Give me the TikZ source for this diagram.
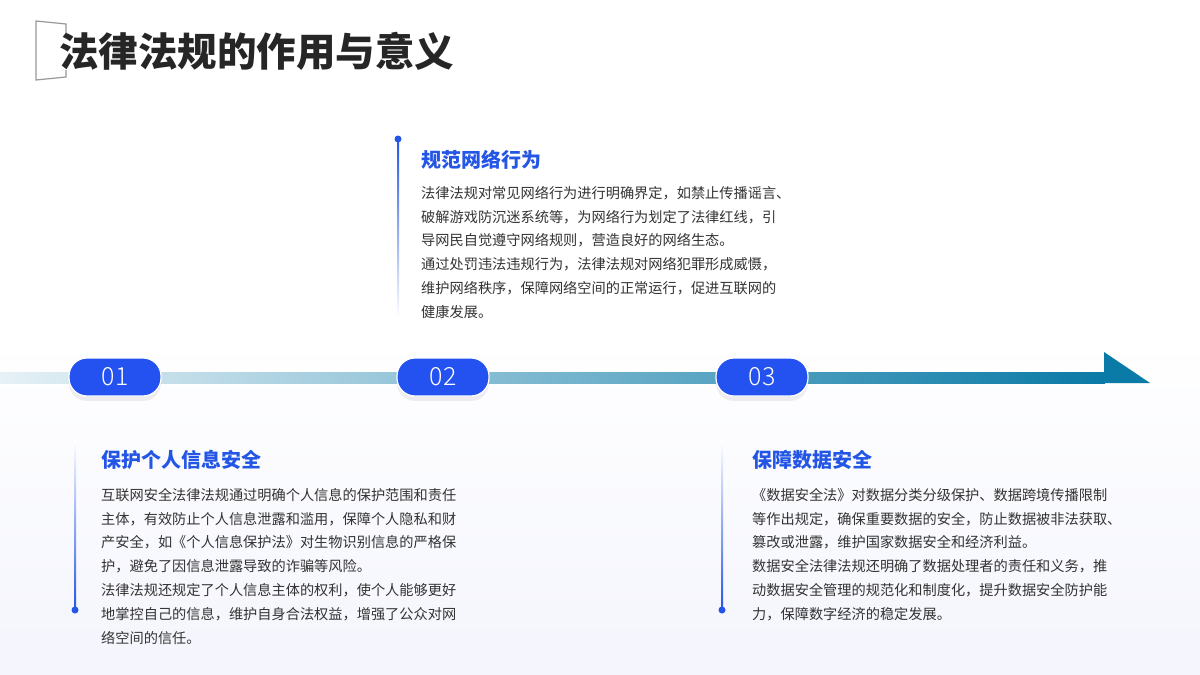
\documentclass[tikz,border=0pt]{standalone}
\usepackage{fontspec}
\setmainfont{Noto Sans CJK SC}
\newfontfamily\pillfont{Noto Sans CJK SC Light}
\usetikzlibrary{positioning, shadows}
\definecolor{pillblue}{HTML}{2352F0}
\definecolor{headblue}{HTML}{2456E6}
\definecolor{barteal}{HTML}{0A7AA6}
\definecolor{barlight}{HTML}{E6F1F6}
\definecolor{bodygray}{HTML}{333333}
\definecolor{bglav}{HTML}{F4F5FD}
\tikzset{
  pill/.style={draw=white, line width=1.2bp, fill=pillblue, rounded corners=18bp,
    minimum width=92bp, minimum height=38bp, text=white, font=\pillfont\fontsize{25bp}{25bp}\selectfont,
    drop shadow={opacity=0.12, shadow xshift=0bp, shadow yshift=-5bp}},
  head/.style={anchor=west, text=headblue, font=\fontsize{20bp}{20bp}\selectfont\bfseries, inner sep=0pt},
  body/.style={anchor=north west, align=left, text=bodygray, inner sep=0pt,
    font=\fontsize{14.2bp}{23.8bp}\selectfont},
  dot/.style={fill=headblue, circle, inner sep=0pt, minimum size=7bp}
}
\begin{document}
\begin{tikzpicture}[x=1bp, y=-1bp]
  % Background
  \shade[top color=white, bottom color=bglav, middle color=white] (0,0) rectangle (1200,675);
  \useasboundingbox (0,0) rectangle (1200,675);

  % Title
  \draw[gray!80, line width=1.2bp] (66,33) -- (66,24) -- (36,21) -- (36,80) -- (66,77) -- (66,70);
  \node[anchor=west, inner sep=0pt, font=\fontsize{39.5bp}{40bp}\selectfont\bfseries, text=black!85] (title) at (59,51) {法律法规的作用与意义};

  % Timeline bar
  \shade[left color=barlight, right color=barteal] (0,372) rectangle (1105,383);
  \fill[barteal] (1104,352) -- (1150,383) -- (1104,383) -- cycle;

  % Step pills
  \node[pill] (p1) at (115,377) {01};
  \node[pill] (p2) at (443,377) {02};
  \node[pill] (p3) at (762,377) {03};

  % Section 02
  \node[dot] (d2) at (398,139) {};
  \shade[top color=headblue, bottom color=white] (397,139) rectangle (399,318);
  \node[head] (h2) at (421,160) {规范网络行为};
  \node[body] (b2) at (421,186) {法律法规对常见网络行为进行明确界定，如禁止传播谣言、\\破解游戏防沉迷系统等，为网络行为划定了法律红线，引\\导网民自觉遵守网络规则，营造良好的网络生态。\\通过处罚违法违规行为，法律法规对网络犯罪形成威慑，\\维护网络秩序，保障网络空间的正常运行，促进互联网的\\健康发展。};

  % Section 01
  \node[dot] (d1) at (75,610) {};
  \shade[top color=white, bottom color=headblue] (74,440) rectangle (76,610);
  \node[head] (h1) at (101,460) {保护个人信息安全};
  \node[body] (b1) at (101,488) {互联网安全法律法规通过明确个人信息的保护范围和责任\\主体，有效防止个人信息泄露和滥用，保障个人隐私和财\\产安全，如《个人信息保护法》对生物识别信息的严格保\\护，避免了因信息泄露导致的诈骗等风险。\\法律法规还规定了个人信息主体的权利，使个人能够更好\\地掌控自己的信息，维护自身合法权益，增强了公众对网\\络空间的信任。};

  % Section 03
  \node[dot] (d3) at (722,610) {};
  \shade[top color=white, bottom color=headblue] (721,440) rectangle (723,610);
  \node[head] (h3) at (752,460) {保障数据安全};
  \node[body] (b3) at (752,488) {《数据安全法》对数据分类分级保护、数据跨境传播限制\\等作出规定，确保重要数据的安全，防止数据被非法获取、\\篡改或泄露，维护国家数据安全和经济利益。\\数据安全法律法规还明确了数据处理者的责任和义务，推\\动数据安全管理的规范化和制度化，提升数据安全防护能\\力，保障数字经济的稳定发展。};
\end{tikzpicture}
\end{document}
